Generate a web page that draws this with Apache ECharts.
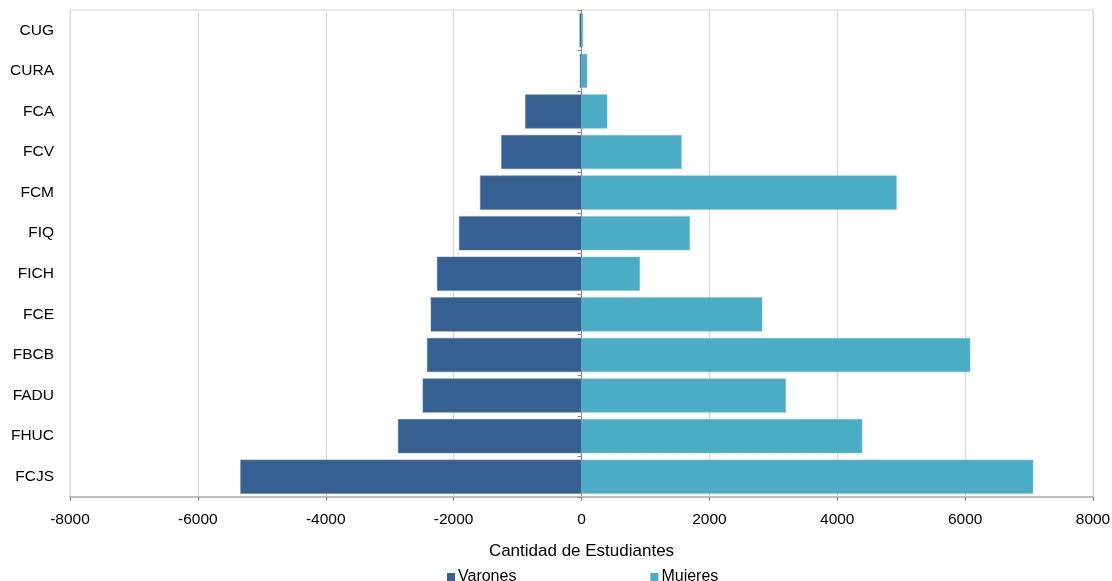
<!DOCTYPE html>
<html>
<head>
<meta charset="utf-8">
<script src="https://cdn.jsdelivr.net/npm/echarts@6/dist/echarts.min.js"></script>
<style>html,body{margin:0;padding:0;background:#fff}#c{width:1112px;height:581px}</style>
</head>
<body>
<div id="c"></div>
<script>
const categories = ['CUG','CURA','FCA','FCV','FCM','FIQ','FICH','FCE','FBCB','FADU','FHUC','FCJS'];
const varones = [-30,-25,-880,-1255,-1587,-1916,-2260,-2358,-2416,-2484,-2870,-5336];
const mujeres = [25,90,404,1567,4929,1697,915,2828,6081,3198,4392,7066];
const xTicks = [-8000,8000,2000];
const axisTitle = 'Cantidad de Estudiantes';
const seriesNames = ['Varones','Mujeres'];

const font = 'Liberation Sans, Arial, sans-serif';
const chart = echarts.init(document.getElementById('c'));
chart.setOption({
  animation:false,
  textStyle:{fontFamily:font},
  grid:{left:70,right:19,top:10,bottom:84,show:true,borderColor:'#d9d9d9',borderWidth:1,containLabel:false,outerBoundsMode:'none'},
  legend:{
    data:seriesNames, left:442, top:564, itemGap:134, itemWidth:8, itemHeight:8, icon:'rect',
    textStyle:{fontFamily:font,fontSize:16,color:'#000',padding:[0,0,0,-2]}, itemStyle:{borderWidth:0}
  },
  xAxis:{
    type:'value', min:xTicks[0], max:xTicks[1], interval:xTicks[2],
    name:axisTitle, nameLocation:'middle', nameGap:46,
    nameTextStyle:{fontFamily:font,fontSize:17,color:'#000'},
    axisLine:{show:true,lineStyle:{color:'#bfbfbf',width:2}},
    axisTick:{show:true,length:4,lineStyle:{color:'#868686'}},
    axisLabel:{fontFamily:font,fontSize:15.5,color:'#000',margin:15,formatter:v=>String(v)},
    splitLine:{show:true,lineStyle:{color:'#d9d9d9',width:1}}
  },
  yAxis:[{
    type:'category', data:categories, inverse:true, position:'left',
    axisLine:{show:false,onZero:false}, axisTick:{show:false},
    axisLabel:{fontFamily:font,fontSize:15.5,color:'#000',margin:16},
    splitLine:{show:false}
  },{
    type:'category', data:categories, inverse:true, position:'left',
    axisLine:{show:true,onZero:true,lineStyle:{color:'#868686',width:1}},
    axisTick:{show:true,length:4,lineStyle:{color:'#868686'}},
    axisLabel:{show:false}, splitLine:{show:false}
  }],
  series:[{
    name:seriesNames[0], type:'bar', data:varones, yAxisIndex:0,
    barGap:'-100%', barCategoryGap:'16%',
    itemStyle:{color:'#376092',borderColor:'#5a7fa9',borderWidth:0.5}
  },{
    name:seriesNames[1], type:'bar', data:mujeres, yAxisIndex:0,
    barGap:'-100%', barCategoryGap:'16%',
    itemStyle:{color:'#4bacc6',borderColor:'#7cc5d8',borderWidth:0.5}
  }]
});
</script>
</body>
</html>
